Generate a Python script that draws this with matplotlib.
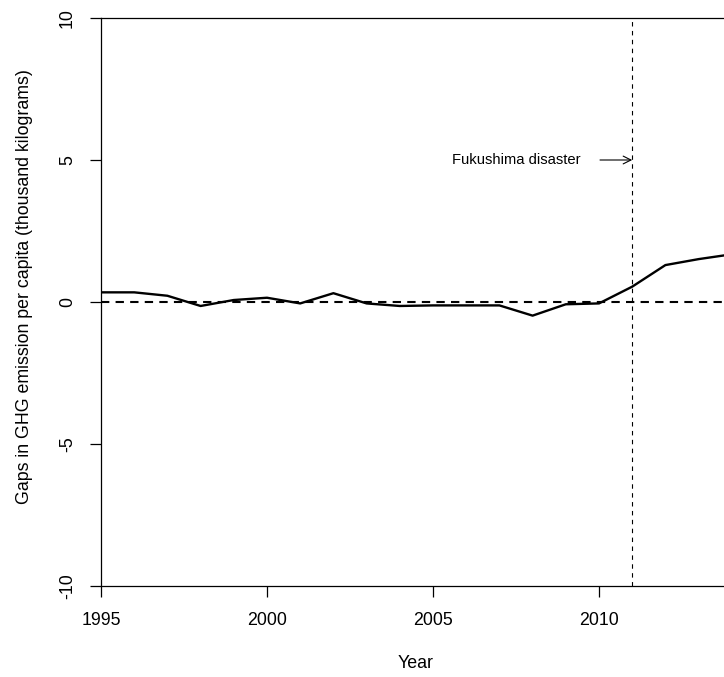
import matplotlib
matplotlib.use("Agg")
import matplotlib.pyplot as plt

years = list(range(1995, 2015))
gaps = [0.34, 0.34, 0.22, -0.14, 0.07, 0.15, -0.05, 0.31, -0.05, -0.14,
        -0.12, -0.12, -0.12, -0.48, -0.08, -0.05, 0.54, 1.30, 1.51, 1.68]
event_year = 2011
event_label = "Fukushima disaster"
xticks = [1995, 2000, 2005, 2010]
yticks = [-10, -5, 0, 5, 10]

plt.rcParams['font.family'] = ['Liberation Sans', 'DejaVu Sans']

W, H = 724, 677
fig = plt.figure(figsize=(W / 100, H / 100), dpi=100)
left = 101 / W
bottom = 1 - 586 / H
top = 1 - 18 / H
width_px = 33.2 * 19.2
ax = fig.add_axes([left, bottom, width_px / W, top - bottom])
ax.set_xlim(1995, 2014.2)
ax.set_ylim(-10, 10)

ax.plot(years, gaps, color='black', lw=1.7, solid_joinstyle='round', zorder=3)
ax.axhline(0, color='black', lw=1.5, dashes=(4, 3))
ax.axvline(event_year, color='black', lw=0.8, dashes=(4, 4))
ax.annotate("", xy=(event_year, 5), xytext=(event_year - 0.97, 5),
            arrowprops=dict(arrowstyle='->', color='black', lw=0.8,
                            shrinkA=0, shrinkB=0, mutation_scale=14))
ax.text(event_year - 1.54, 5, event_label, ha='right', va='center', fontsize=10.6)

for s in ax.spines.values():
    s.set_linewidth(0.9)
ax.set_xticks(xticks)
ax.set_yticks(yticks)
ax.set_yticklabels([str(v) for v in yticks], rotation=90, va='center')
ax.tick_params(axis='both', direction='out', length=8, width=0.9,
               labelsize=12.8, colors='black')
ax.tick_params(axis='x', pad=10.5)
ax.tick_params(axis='y', pad=10)

fig.text(416 / W, 1 - 663 / H, "Year", ha='center', va='center', fontsize=12.8)
fig.text(25 / W, 1 - 287 / H, "Gaps in GHG emission per capita (thousand kilograms)",
         ha='center', va='center', rotation=90, fontsize=12.8)

fig.savefig("out.png", dpi=100)
